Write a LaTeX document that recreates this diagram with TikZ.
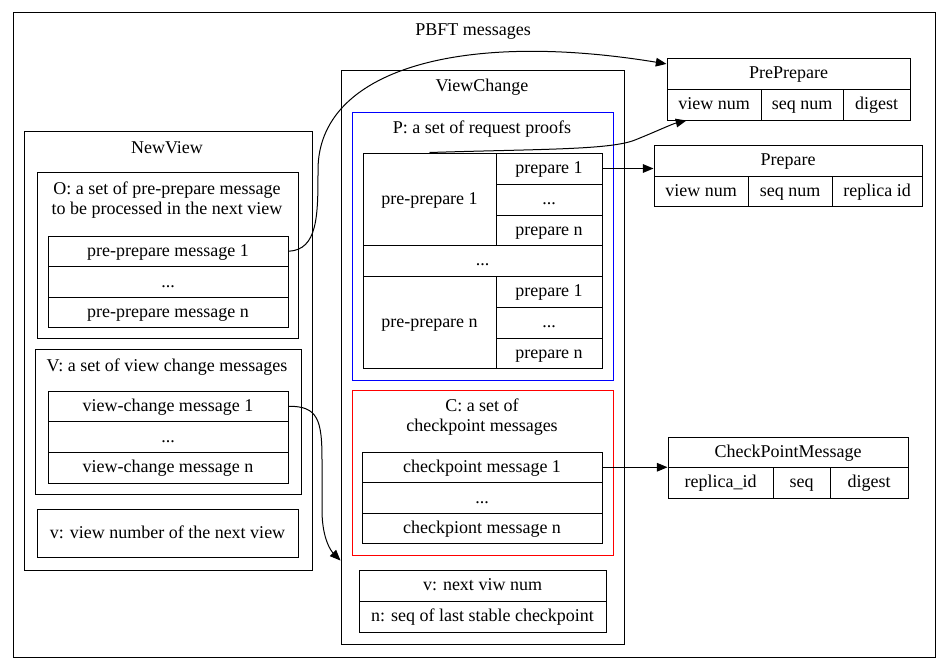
\documentclass[tikz,border=0pt]{standalone}
\usepackage{fontspec}
\setmainfont{Liberation Serif}
\usetikzlibrary{arrows.meta,fit,calc}

\begin{document}
\begin{tikzpicture}[x=0.75pt, y=-0.75pt,
    box/.style={draw, line width=0.75pt, inner sep=0pt},
    txt/.style={inner sep=0pt, text height=11pt, text depth=3pt},
    cell/.style={box, label={[txt]center:#1}},
    lbl/.style={inner sep=0pt, align=center},
    msg/.style={line width=0.75pt, -{Triangle[length=8pt,width=6.5pt]}},
    font=\fontsize{13.5}{15}\selectfont]
    \useasboundingbox (0,0) rectangle (950,671);

    % outer graph
    \node[box, fit={(13,12) (935,657)}] (pbft) {};
    \node[lbl] (pbftlbl) at (473,32) {PBFT messages};

    % NewView
    \node[box, fit={(24,131) (312,570)}] (newview) {};
    \node[lbl] (newviewlbl) at (167,148) {NewView};
    \node[box, fit={(37,172) (298,338)}] (oset) {};
    \node[lbl] (osetlbl) at (167,200) {O: a set of pre-prepare message\\ to be processed in the next view};
    \node[cell=pre-prepare message 1, fit={(48,236) (288,266.5)}] (o1) {};
    \node[cell=..., fit={(48,266.5) (288,297)}] (o2) {};
    \node[cell=pre-prepare message n, fit={(48,297) (288,327)}] (o3) {};
    \node[box, fit={(35,349) (301,494)}] (vset) {};
    \node[lbl] (vsetlbl) at (167,367) {V: a set of view change messages};
    \node[cell=view-change message 1, fit={(48,391) (288,421.5)}] (v1) {};
    \node[cell=..., fit={(48,421.5) (288,452)}] (v2) {};
    \node[cell=view-change message n, fit={(48,452) (288,483)}] (v3) {};
    \node[cell=v: view number of the next view, fit={(37,509) (298,557)}] (vnum) {};

    % ViewChange
    \node[box, fit={(341,70) (624,644)}] (viewchange) {};
    \node[lbl] (viewchangelbl) at (482,87) {ViewChange};
    \node[box, draw=blue, fit={(352,112) (613,380)}] (pset) {};
    \node[lbl] (psetlbl) at (482,129) {P: a set of request proofs};
    \node[cell=pre-prepare 1, fit={(363,153) (496,245)}] (pp1) {};
    \node[cell=prepare 1, fit={(496,153) (602,184)}] (p11) {};
    \node[cell=..., fit={(496,184) (602,215)}] (p12) {};
    \node[cell=prepare n, fit={(496,215) (602,245)}] (p13) {};
    \node[cell=..., fit={(363,245) (602,276)}] (pdots) {};
    \node[cell=pre-prepare n, fit={(363,276) (496,368)}] (ppn) {};
    \node[cell=prepare 1, fit={(496,276) (602,307)}] (pn1) {};
    \node[cell=..., fit={(496,307) (602,338)}] (pn2) {};
    \node[cell=prepare n, fit={(496,338) (602,368)}] (pn3) {};
    \node[box, draw=red, fit={(352,390) (613,555)}] (cset) {};
    \node[lbl] (csetlbl) at (482,417) {C: a set of\\checkpoint messages};
    \node[cell=checkpoint message 1, fit={(362,452) (602,482.5)}] (c1) {};
    \node[cell=..., fit={(362,482.5) (602,513)}] (c2) {};
    \node[cell=checkpiont message n, fit={(362,513) (602,543)}] (c3) {};
    \node[cell=v: next viw num, fit={(359,570) (606,601)}] (vcv) {};
    \node[cell=n: seq of last stable checkpoint, fit={(359,601) (606,632)}] (vcn) {};

    % PrePrepare
    \node[cell=PrePrepare, fit={(667,58) (910,89)}] (ppt) {};
    \node[cell=view num, fit={(667,89) (761,120)}] (ppa) {};
    \node[cell=seq num, fit={(761,89) (843,120)}] (ppb) {};
    \node[cell=digest, fit={(843,89) (910,120)}] (ppc) {};

    % Prepare
    \node[cell=Prepare, fit={(654,145) (922,176)}] (prt) {};
    \node[cell=view num, fit={(654,176) (748,206)}] (pra) {};
    \node[cell=seq num, fit={(748,176) (832,206)}] (prb) {};
    \node[cell=replica id, fit={(832,176) (922,206)}] (prc) {};

    % CheckPointMessage
    \node[cell=CheckPointMessage, fit={(668,437) (908,467)}] (cpt) {};
    \node[cell=replica\_id, fit={(668,467) (773,498)}] (cpa) {};
    \node[cell=seq, fit={(773,467) (830,498)}] (cpb) {};
    \node[cell=digest, fit={(830,467) (908,498)}] (cpc) {};

    \coordinate (ppin) at ($(ppt.north west)!0.2!(ppt.south west)$);
    \coordinate (ppup) at ($(ppa.south west)!0.21!(ppa.south east)$);
    \coordinate (vcin) at ($(viewchange.south west)!0.146!(viewchange.north west)$);

    \draw[msg] (o1.east) .. controls (318,250) and (318,215) .. (318,170)
        .. controls (318,70) and (460,30) .. (ppin);
    \draw[msg] (pp1.north) .. controls (540,149) and (610,150) .. (635,140)
        .. controls (655,132) and (672,124) .. (ppup);
    \draw[msg] (p11.east) -- (p11.east -| prt.west);
    \draw[msg] (v1.east) .. controls (318,406) and (322,420) .. (322,460)
        -- (322,510) .. controls (322,540) and (332,552) .. (vcin);
    \draw[msg] (c1.east) -- (c1.east -| cpt.west);
\end{tikzpicture}
\end{document}
